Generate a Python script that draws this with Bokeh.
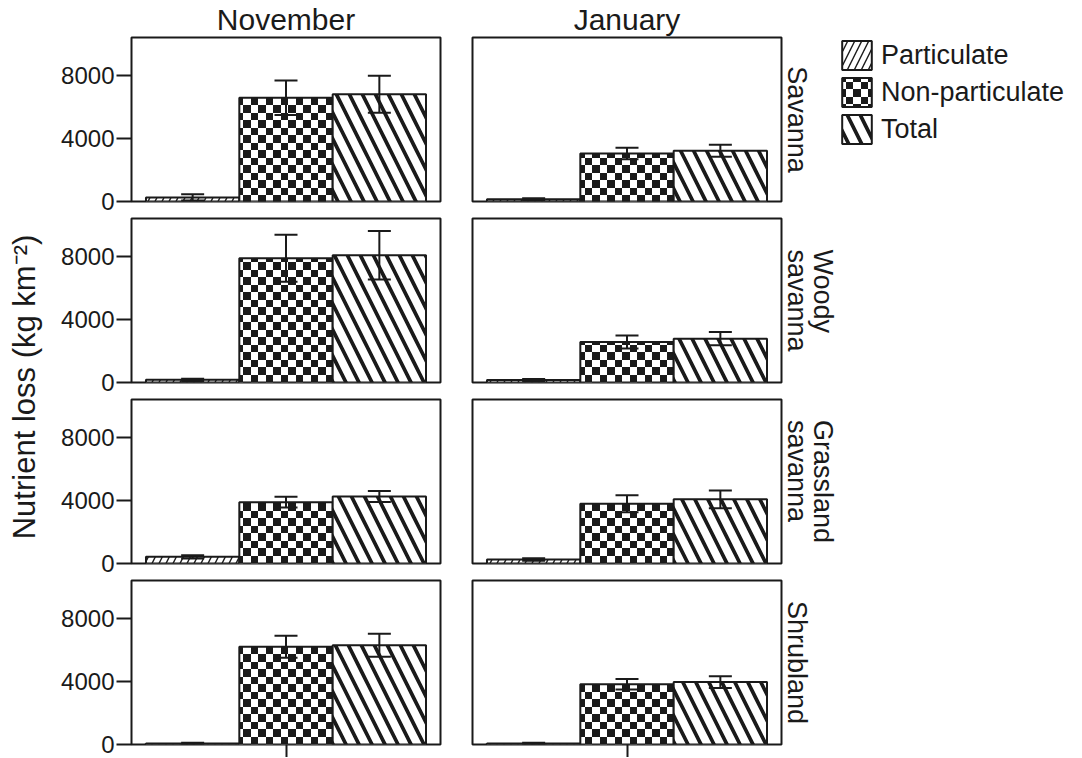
import base64
from bokeh.plotting import figure
from bokeh.models import (Range1d, FixedTicker, Whisker, TeeHead, ColumnDataSource,
                          Title, Legend, LegendItem, ImageURLTexture)
from bokeh.layouts import row, column
from bokeh.embed import file_html
from bokeh.resources import INLINE

FONT = "Liberation Sans"
INK = "#1a1a1a"

months = ["November", "January"]
habitats = ["Savanna", "Woody\nsavanna", "Grassland\nsavanna", "Shrubland"]
series = ["Particulate", "Non-particulate", "Total"]

# values per habitat: [November, January]
particulate = [[260, 150], [170, 160], [425, 260], [60, 60]]
particulate_err = [[200, 50], [70, 60], [105, 80], [50, 50]]
non_particulate = [[6600, 3050], [7900, 2580], [3900, 3800], [6220, 3830]]
non_particulate_err = [[1100, 370], [1500, 410], [340, 540], [700, 330]]
total = [[6820, 3230], [8090, 2790], [4260, 4080], [6310, 3970]]
total_err = [[1180, 380], [1540, 420], [350, 570], [730, 370]]

yticks = [0, 4000, 8000]
y_label = "Nutrient loss (kg km\u207b\u00b2)"

values = {"Particulate": (particulate, particulate_err),
          "Non-particulate": (non_particulate, non_particulate_err),
          "Total": (total, total_err)}

# checkerboard texture tile (style only)
_tile = ('<svg xmlns="http://www.w3.org/2000/svg" width="15" height="15" '
         'shape-rendering="crispEdges">'
         '<rect width="15" height="15" fill="white"/>'
         '<rect width="7.5" height="7.5" fill="#1a1a1a"/>'
         '<rect x="7.5" y="7.5" width="7.5" height="7.5" fill="#1a1a1a"/></svg>')
checker = ImageURLTexture(
    url="data:image/svg+xml;base64," + base64.b64encode(_tile.encode()).decode())

patterns = {"Particulate": "/", "Non-particulate": "checker", "Total": "\\"}
hatch_sizes = {"Particulate": (14, 1.4), "Non-particulate": (15, 1), "Total": (26, 3.7)}


def bar(p, src, s, **kw):
    scale, weight = hatch_sizes[s]
    return p.vbar(x="x", top="top", bottom=0, width=1.0, source=src,
                  fill_color="white", line_color=INK, line_width=2,
                  hatch_color=INK, hatch_pattern="pat",
                  hatch_extra={"checker": checker},
                  hatch_scale=scale, hatch_weight=weight, **kw)


def make_panel(h, m):
    first_row = h == 0
    last_row = h == len(habitats) - 1
    left = m == 0
    if left:
        bl, br = 83, 2
    else:
        bl, br = 30, 57
    if first_row:
        bt, bb = 37, 16
    elif last_row:
        bt, bb = 1, 13
    else:
        bt, bb = 1, 16
    p = figure(frame_width=309, frame_height=164,
               x_range=Range1d(0.345, 3.655), y_range=Range1d(0, 10430),
               output_backend="svg", toolbar_location=None,
               title=months[m] if first_row else None,
               x_axis_location="below" if last_row else None,
               y_axis_location="left" if left else None,
               min_border_top=bt, min_border_bottom=bb,
               min_border_left=bl, min_border_right=br)
    p.xgrid.visible = False
    p.ygrid.visible = False
    p.outline_line_color = INK
    p.outline_line_width = 2
    if first_row:
        p.title.align = "center"
        p.title.vertical_align = "top"
        p.title.text_font = FONT
        p.title.text_font_size = "30px"
        p.title.text_font_style = "normal"
        p.title.text_color = INK
        p.title.standoff = 0
        p.title.offset = 0
    if left:
        ax = p.yaxis[0]
        ax.ticker = FixedTicker(ticks=yticks)
        ax.major_tick_out = 15
        ax.major_tick_in = 0
        ax.minor_tick_out = 0
        ax.minor_tick_in = 0
        ax.major_tick_line_width = 2
        ax.major_tick_line_color = INK
        ax.axis_line_color = None
        ax.major_label_text_font = FONT
        ax.major_label_text_font_size = "24px"
        ax.major_label_text_color = INK
        ax.major_label_standoff = 2
    if last_row:
        ax = p.xaxis[0]
        ax.ticker = FixedTicker(ticks=[2])
        ax.major_tick_out = 13
        ax.major_tick_in = 0
        ax.minor_tick_out = 0
        ax.major_tick_line_width = 2
        ax.major_tick_line_color = INK
        ax.axis_line_color = None
        ax.major_label_text_font_size = "1px"
        ax.major_label_overrides = {2: ""}
        ax.major_label_standoff = 0
    if not left:
        p.add_layout(Title(text=habitats[h], align="center", text_font=FONT,
                           text_font_size="27px", text_font_style="normal",
                           text_color=INK, standoff=0, offset=0,
                           text_line_height=0.87), "right")
    for k, s in enumerate(series):
        vals, errs = values[s]
        v = vals[h][m]
        e = errs[h][m]
        src = ColumnDataSource(dict(x=[k + 1], top=[v], upper=[v + e], lower=[v - e],
                                    pat=[patterns[s]]))
        bar(p, src, s)
        p.add_layout(Whisker(source=src, base="x", upper="upper", lower="lower",
                             level="overlay", line_color=INK, line_width=2,
                             upper_head=TeeHead(size=23, line_width=2, line_color=INK),
                             lower_head=TeeHead(size=23, line_width=2, line_color=INK)))
    return p


def make_legend_fig():
    lf = figure(width=244, height=217, output_backend="svg", toolbar_location=None,
                title=None, x_axis_location=None, y_axis_location=None,
                min_border_top=29, min_border_bottom=0, min_border_left=0,
                min_border_right=0, x_range=Range1d(0, 1), y_range=Range1d(0, 1))
    lf.xgrid.visible = False
    lf.ygrid.visible = False
    lf.outline_line_color = None
    items = []
    for k, s in enumerate(series):
        vals, errs = values[s]
        src = ColumnDataSource(dict(x=[k + 1], top=[vals[0][1]], pat=[patterns[s]]))
        r = bar(lf, src, s, visible=False)
        items.append(LegendItem(label=s, renderers=[r], index=0))
    legend = Legend(items=items, location="top_left", orientation="vertical",
                    glyph_width=37, glyph_height=36, label_standoff=6,
                    spacing=1, padding=0, margin=0,
                    border_line_color=None, background_fill_alpha=0,
                    label_text_font=FONT, label_text_font_size="27px",
                    label_text_color=INK, label_height=36)
    lf.add_layout(legend)
    return lf


rows = []
for h in range(len(habitats)):
    panels = [make_panel(h, 0), make_panel(h, 1)]
    if h == 0:
        panels.append(make_legend_fig())
    rows.append(row(*panels))

ylab = figure(width=48, height=757, min_border_left=41, min_border_right=0,
              min_border_top=16, min_border_bottom=0, output_backend="svg",
              toolbar_location=None, title=None, x_axis_location=None,
              y_axis_location=None)
ylab.xgrid.visible = False
ylab.ygrid.visible = False
ylab.outline_line_color = None
ylab.add_layout(Title(text=y_label, align="center", text_font=FONT,
                      text_font_size="31px", text_font_style="normal",
                      text_color=INK, standoff=0, offset=0), "left")

layout = row(ylab, column(*rows))

open("out.html", "w").write(file_html(layout, INLINE))
